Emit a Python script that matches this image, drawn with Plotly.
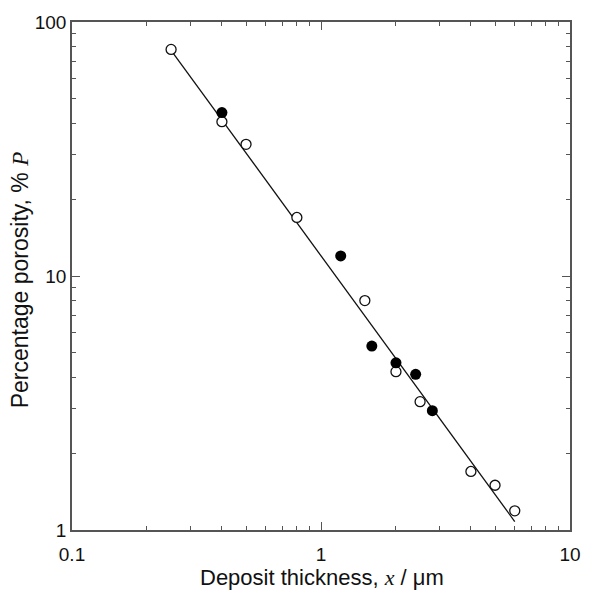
import plotly.graph_objects as go

# Porosity measurements vs deposit thickness
open_x = [0.25, 0.4, 0.5, 0.8, 1.5, 2.0, 2.5, 4.0, 5.0, 6.0]
open_y = [78.0, 40.5, 33.0, 17.0, 8.0, 4.2, 3.2, 1.7, 1.5, 1.19]

filled_x = [0.4, 1.2, 1.6, 2.0, 2.4, 2.8]
filled_y = [44.0, 12.0, 5.3, 4.55, 4.1, 2.95]

# Power-law fit line endpoints
fit_x = [0.25, 6.0]
fit_y = [77.4, 1.08]

x_major = [0.1, 1, 10]
x_major_text = ["0.1", "1", "10"]
y_major = [1, 10, 100]
y_major_text = ["1", "10", "100"]
minor_vals = [m * d for d in (0.1, 1) for m in range(2, 10)]
minor_vals_y = [m * d for d in (1, 10) for m in range(2, 10)]

FONT = "Liberation Sans, Arial, Helvetica, sans-serif"
AX = "#555555"
TXT = "#111111"

fig = go.Figure()
fig.add_trace(go.Scatter(x=fit_x, y=fit_y, mode="lines",
                         line=dict(color="#111111", width=1.3),
                         showlegend=False, hoverinfo="skip"))
fig.add_trace(go.Scatter(x=open_x, y=open_y, mode="markers",
                         marker=dict(symbol="circle", size=10, color="white",
                                     line=dict(color="#111111", width=1.3)),
                         showlegend=False))
fig.add_trace(go.Scatter(x=filled_x, y=filled_y, mode="markers",
                         marker=dict(symbol="circle", size=11, color="black",
                                     line=dict(color="black", width=0)),
                         showlegend=False))

axis_common = dict(
    type="log", showgrid=False, zeroline=False,
    showline=True, linecolor=AX, linewidth=1.5, mirror="ticks",
    ticks="inside", ticklen=8, tickwidth=1.3, tickcolor=AX,
    tickfont=dict(family=FONT, size=19, color=TXT),
)

fig.update_layout(
    width=593, height=593,
    margin=dict(l=72, r=12, t=20, b=63),
    paper_bgcolor="white", plot_bgcolor="white",
    xaxis=dict(axis_common, range=[-1, 1], tickvals=x_major, ticktext=x_major_text,
               ticklabelstandoff=6,
               minor=dict(tickvals=minor_vals, ticks="inside", ticklen=4,
                          tickwidth=1.3, tickcolor=AX)),
    yaxis=dict(axis_common, range=[0, 2], tickvals=y_major, ticktext=y_major_text,
               minor=dict(tickvals=minor_vals_y, ticks="inside", ticklen=4,
                          tickwidth=1.3, tickcolor=AX)),
    annotations=[
        dict(text="Deposit thickness, <span style=\"font-family:'Liberation Serif'\"><i>x</i></span> / μm",
             xref="paper", yref="paper", x=0.502, y=-0.093,
             xanchor="center", yanchor="middle", showarrow=False,
             font=dict(family=FONT, size=22, color=TXT)),
        dict(text="Percentage porosity, % <span style=\"font-family:'Liberation Serif'\"><i>P</i></span>",
             textangle=-90, xref="paper", yref="paper", x=-0.104, y=0.492,
             xanchor="center", yanchor="middle", showarrow=False,
             font=dict(family=FONT, size=23, color=TXT)),
    ],
)

fig.write_html("out.html")
